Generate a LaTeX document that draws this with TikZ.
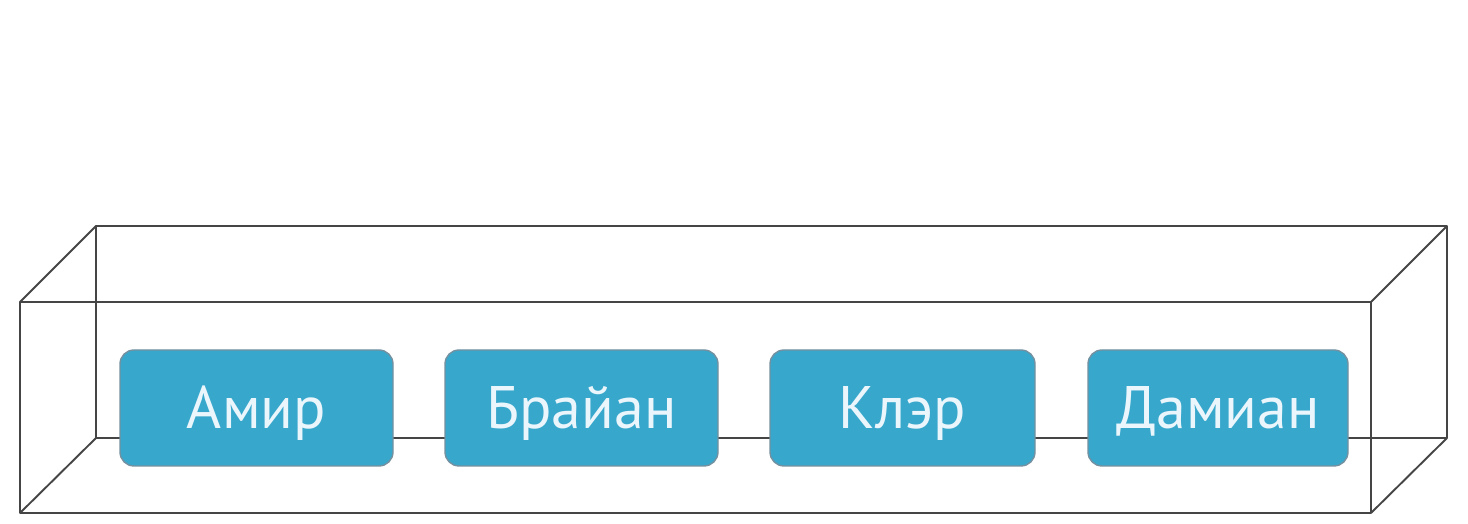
\documentclass[tikz,border=0pt]{standalone}
\usepackage{fontspec}
\setmainfont{PT Sans}
\definecolor{boxfill}{HTML}{38A7CC}
\definecolor{boxline}{HTML}{7391A0}
\definecolor{edge}{HTML}{454545}
\definecolor{txt}{HTML}{EAF6FB}
\begin{document}
\begin{tikzpicture}[x=1pt,y=1pt,
  edgeline/.style={draw=edge,line width=1.9pt,line join=round},
  namebox/.style={draw=boxline,line width=1.4pt,fill=boxfill,rounded corners=14pt,
    minimum height=116pt,inner sep=0pt,text height=42pt,text depth=0pt,
    text=txt,font=\fontsize{60}{62}\selectfont}]
\useasboundingbox (0,0) rectangle (1468,524);
% back face
\coordinate (bA) at (96,86);
\coordinate (bB) at (1447,86);
\coordinate (bC) at (1447,298);
\coordinate (bD) at (96,298);
% front face
\coordinate (fA) at (20,11);
\coordinate (fB) at (1371,11);
\coordinate (fC) at (1371,222);
\coordinate (fD) at (20,222);
\draw[edgeline] (bA) -- (bB) -- (bC) -- (bD) -- cycle;
\draw[edgeline] (fA) -- (fB) -- (fC) -- (fD) -- cycle;
\draw[edgeline] (fA) -- (bA);
\draw[edgeline] (fB) -- (bB);
\draw[edgeline] (fC) -- (bC);
\draw[edgeline] (fD) -- (bD);
% name boxes
\node[namebox,minimum width=273pt] (amir) at (256.5,116) {Амир};
\node[namebox,minimum width=273pt] (brian) at (581.5,116) {Брайан};
\node[namebox,minimum width=265pt] (claire) at (902.5,116) {Клэр};
\node[namebox,minimum width=260pt] (damian) at (1218,116) {Дамиан};
\end{tikzpicture}
\end{document}
